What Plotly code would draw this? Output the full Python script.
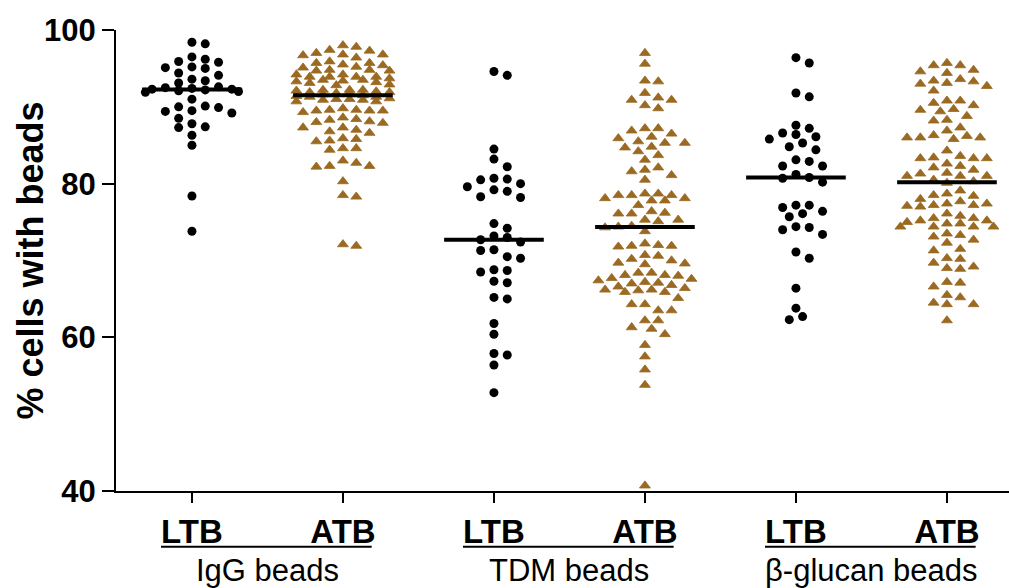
import numpy as np
import plotly.graph_objects as go

# ---- data -------------------------------------------------------------
categories = ["LTB", "ATB", "LTB", "ATB", "LTB", "ATB"]
bead_groups = ["IgG beads", "TDM beads", "β-glucan beads"]

igg_ltb = [98.4, 98.2, 96.5, 96.2, 95.8, 95.9, 95.2, 95.0, 95.1, 94.4, 94.1, 93.6, 93.4, 93.1,
           92.6, 92.5, 92.4, 92.3, 92.3, 92.2, 92.1, 92.0, 91.9,
           91.0, 90.0, 89.9, 90.1, 89.5, 89.4, 89.2, 88.5, 87.8, 87.4, 87.3, 86.3, 85.0,
           78.4, 73.8]

igg_atb = [98.0, 97.4, 97.0, 96.8, 96.4, 96.7, 96.8, 97.3, 97.8,
           95.7, 95.5, 95.2, 94.8, 94.7, 94.2, 94.2, 94.7, 94.8, 95.1, 95.4, 95.7, 95.9,
           93.9, 93.9, 93.5, 93.4, 93.2, 92.9, 92.8, 93.1, 93.3, 93.5, 93.7, 93.9, 93.9,
           92.2, 92.2, 92.0, 91.9, 91.8, 91.5, 91.3, 91.3, 91.4, 91.6, 91.8, 91.9, 92.1, 92.2,
           91.0, 90.9, 90.7, 90.7, 90.9, 91.0, 91.1,
           89.5, 89.5, 89.6, 89.8, 89.3, 89.5, 89.6,
           88.1, 87.9, 88.6, 88.3, 88.4, 88.0,
           87.3, 86.8, 86.6, 87.0, 87.3,
           85.9, 85.6, 85.5, 85.8,
           84.6, 84.4, 84.6,
           82.7, 82.3, 82.2, 82.3, 83.0,
           80.3, 78.5, 78.3, 71.9, 72.1]

tdm_ltb = [94.6, 94.1, 84.5, 83.2, 82.2, 80.7, 80.5, 80.0, 80.6, 79.6, 79.0, 79.2, 78.2, 78.3,
           74.2, 74.8, 73.0, 72.4, 72.7, 73.2, 71.3, 70.5, 70.3, 71.4,
           68.8, 68.5, 68.7, 67.1, 67.3, 65.2, 65.0, 61.8, 60.4, 57.7, 57.9, 56.4, 52.8]

tdm_atb = [97.0, 95.6, 93.4, 93.3, 91.8, 90.9, 90.2, 90.9, 91.2, 89.8,
           87.2, 87.2, 86.5, 85.9, 85.3, 85.3, 85.5, 86.1, 86.9,
           84.8, 84.2, 84.7, 83.7, 83.1, 81.8, 81.1, 81.6, 82.1, 80.5,
           78.7, 78.5, 78.5, 78.1, 77.8, 77.8, 78.1, 78.5, 78.7, 77.2,
           76.2, 76.1, 76.1, 76.4, 75.3, 75.1, 75.3,
           74.5, 74.4, 74.3, 73.8,
           71.9, 71.9, 71.8, 72.0, 72.2,
           70.7, 70.2, 69.7, 70.0, 70.6, 69.5, 69.6,
           68.4, 68.1, 67.7, 68.0, 67.6, 68.1, 68.4,
           67.2, 67.0, 66.6, 66.2, 66.1, 65.9, 65.9, 66.2, 66.4, 66.8, 67.1, 67.4,
           65.1, 64.3, 64.3, 63.5, 63.5, 62.2, 62.2, 61.3, 61.1, 60.4, 59.0, 57.5, 55.8, 53.8,
           40.7]

glucan_ltb = [96.4, 95.7, 91.8, 91.3, 87.6, 87.2, 86.4, 86.6, 86.1, 85.8, 85.3, 84.8, 84.4,
              83.1, 82.9, 82.3, 82.3,
              81.2, 80.7, 80.2, 80.8,
              77.2, 76.4, 75.7, 76.1, 76.9, 77.2,
              74.4, 74.0, 73.4, 74.3,
              70.3, 71.1, 66.4, 63.8, 62.3, 62.7]

glucan_atb = [95.7, 95.4, 94.6, 94.4, 94.8, 95.4,
              93.6, 93.3, 93.0, 92.1, 92.7, 93.1, 93.4,
              90.8, 90.5, 90.2, 90.8, 89.7, 89.4, 89.6, 88.8, 88.2, 88.3,
              87.3, 86.3, 86.0, 86.0, 85.8, 86.0, 86.2, 86.9,
              83.6, 83.3, 83.3, 83.3, 83.4, 84.3, 82.6, 82.1, 81.4, 81.8, 82.3,
              81.0, 81.0, 81.0, 81.3, 80.3, 80.1, 80.5,
              78.5, 79.1,
              78.0, 77.4, 77.2, 77.1, 77.0, 77.2, 77.4, 77.7, 78.4, 78.7,
              76.1, 75.5, 75.0, 75.5, 75.8,
              74.8, 74.4, 74.4, 75.2, 75.2, 74.4, 74.4, 74.8,
              73.3, 73.1, 73.5, 72.7, 72.3,
              71.3, 71.5,
              70.3, 69.7, 69.0, 68.9, 69.2, 70.2,
              67.2, 66.6, 67.1,
              65.2, 64.3, 64.3, 64.5, 65.5,
              62.2]

series = [igg_ltb, igg_atb, tdm_ltb, tdm_atb, glucan_ltb, glucan_atb]

# ---- styling / geometry ----------------------------------------------
W, H = 1009, 588
ML, MR, MT, MB = 116, 0, 30, 97
Y_MIN, Y_MAX = 40, 100
CAT_PX = 151.0                      # pixels between neighbouring categories
X_LO = -0.503
X_HI = X_LO + (W - ML - MR) / CAT_PX
PX_PER_Y = (H - MT - MB) / (Y_MAX - Y_MIN)

BLACK = "#000000"
BROWN = "#9a6a22"
FONT = "Liberation Sans"


def swarm_offsets(values, spacing=13.3, min_dy=9.0, max_steps=7):
    """Horizontal offsets (category units) for a beeswarm layout."""
    vals = np.asarray(values, dtype=float)
    step = spacing / 2.0
    order = np.argsort(-vals, kind="stable")
    px_x, px_y = [], []
    out = np.zeros(len(vals))
    for i in order:
        y = vals[i] * PX_PER_Y
        near = [px for px, py in zip(px_x, px_y) if abs(py - y) < min_dy]
        side = (-1, 1) if sum(near) > 0 else (1, -1)
        cands = [0.0] + [s * k * step for k in range(1, max_steps + 1) for s in side]
        chosen, best_pen, fallback = None, None, 0.0
        for x in cands:
            pen = 0.0
            for px, py in zip(px_x, px_y):
                d = ((x - px) / spacing) ** 2 + ((y - py) / min_dy) ** 2
                if d < 1:
                    pen += 1 - d
            if pen == 0:
                chosen = x
                break
            if best_pen is None or pen < best_pen:
                best_pen, fallback = pen, x
        if chosen is None:
            chosen = fallback
        px_x.append(chosen)
        px_y.append(y)
        out[i] = chosen / CAT_PX
    return out


fig = go.Figure()

for k, vals in enumerate(series):
    is_atb = categories[k] == "ATB"
    offs = swarm_offsets(vals)
    fig.add_trace(go.Scatter(
        x=k + offs, y=vals, mode="markers", showlegend=False, cliponaxis=False,
        marker=dict(
            symbol="triangle-up" if is_atb else "circle",
            size=9.5 if is_atb else 9,
            color=BROWN if is_atb else BLACK,
            line=dict(width=0.8 if is_atb else 0, color=BROWN if is_atb else BLACK),
        ),
        hovertemplate="%{y}<extra></extra>",
    ))
    med = float(np.median(vals))
    fig.add_shape(type="line", xref="x", yref="y", x0=k - 0.33, x1=k + 0.33,
                  y0=med, y1=med, line=dict(color=BLACK, width=4))

# bracket lines and group names under the category labels
for g, name in enumerate(bead_groups):
    left, right = 2 * g, 2 * g + 1
    fig.add_shape(type="line", xref="x", yref="paper",
                  x0=left - 0.205, x1=right + 0.19, y0=-0.121, y1=-0.121,
                  line=dict(color=BLACK, width=2))
    fig.add_annotation(x=(left + right) / 2, y=-0.173, xref="x", yref="paper",
                       text=name, showarrow=False, xanchor="center", yanchor="middle",
                       font=dict(family=FONT, size=31, color=BLACK))

fig.add_annotation(x=-0.0963, y=0.5, xref="paper", yref="paper", textangle=-90,
                   text="<b>% cells with beads</b>", showarrow=False,
                   xanchor="center", yanchor="middle",
                   font=dict(family=FONT, size=36, color=BLACK))

fig.update_xaxes(range=[X_LO, X_HI], showgrid=False, zeroline=False,
                 showline=True, linecolor=BLACK, linewidth=2,
                 ticks="outside", ticklen=10, tickwidth=2, tickcolor=BLACK,
                 tickvals=list(range(len(categories))),
                 ticktext=[f"<b>{c}</b>" for c in categories],
                 tickfont=dict(family=FONT, size=33, color=BLACK))
fig.update_yaxes(range=[Y_MIN, Y_MAX], showgrid=False, zeroline=False,
                 showline=True, linecolor=BLACK, linewidth=2,
                 ticks="outside", ticklen=12, tickwidth=2, tickcolor=BLACK,
                 tickvals=[40, 60, 80, 100],
                 ticktext=["<b>40</b>", "<b>60</b>", "<b>80</b>", "<b>100</b>"],
                 tickfont=dict(family=FONT, size=31, color=BLACK))

fig.update_layout(width=W, height=H, margin=dict(l=ML, r=MR, t=MT, b=MB),
                  plot_bgcolor="white", paper_bgcolor="white")

fig.write_html("out.html")
